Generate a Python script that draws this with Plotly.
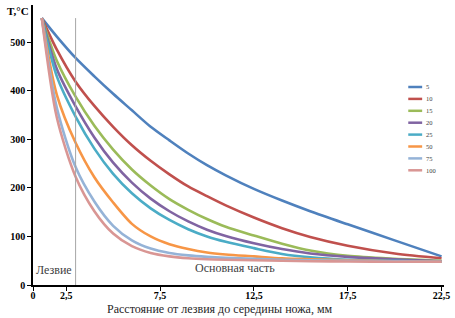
import plotly.graph_objects as go

# Distance from the blade edge (mm)
x_mm = [1.2, 2, 3, 4, 5, 6, 7, 8, 9, 10, 11, 12.5, 14, 15.5, 17.5, 20, 22.5]

series_names = ["5", "10", "15", "20", "25", "50", "75", "100"]

t_5 = [550, 512, 468, 430, 394, 360, 326, 298, 271, 247, 226, 198, 174, 152, 125, 92, 59]
t_10 = [550, 485, 419, 369, 326, 288, 256, 228, 203, 183, 164, 139, 117, 99, 81, 65, 55]
t_15 = [550, 462, 388, 328, 279, 238, 205, 177, 155, 136, 120, 102, 85, 71, 60, 54, 50]
t_20 = [550, 445, 368, 304, 252, 211, 178, 152, 131, 114, 101, 86, 74, 65, 58, 53, 49]
t_25 = [550, 430, 347, 281, 229, 189, 158, 134, 115, 100, 89, 76, 64, 57, 52, 50, 48]
t_50 = [550, 392, 293, 222, 170, 126, 100, 84, 74, 67, 63, 59, 55, 53, 51, 49, 48]
t_75 = [550, 365, 243, 172, 122, 92, 75, 66, 61, 58, 56, 54, 52, 51, 50, 49, 48]
t_100 = [550, 345, 223, 152, 106, 80, 66, 59, 55, 53, 52, 51, 50, 49, 48.5, 48, 48]

series_values = [t_5, t_10, t_15, t_20, t_25, t_50, t_75, t_100]
colors = ["#4F81BD", "#C0504D", "#9BBB59", "#8064A2", "#4BACC6", "#F79646", "#95B3D7", "#D99694"]

x_tick_vals = [0.73, 2.5, 7.5, 12.5, 17.5, 22.5]
x_tick_text = ["0", "2,5", "7,5", "12,5", "17,5", "22,5"]
y_tick_vals = [0, 100, 200, 300, 400, 500]

blade_x = 3.0
blade_top = 550

serif = "Liberation Serif, Times New Roman, serif"

W, H = 455, 318
ML, MR, MT, MB = 33, 8, 5, 33
PW, PH = W - ML - MR, H - MT - MB


def px_to_paper(px, py):
    return (px - ML) / PW, (H - MB - py) / PH


fig = go.Figure()
for name, vals, col in zip(series_names, series_values, colors):
    fig.add_trace(go.Scatter(
        x=x_mm, y=vals, name=name, mode="lines",
        line=dict(color=col, width=2.6, shape="spline", smoothing=0.8),
        showlegend=False,
    ))

# Blade boundary line
fig.add_trace(go.Scatter(
    x=[blade_x, blade_x], y=[0, blade_top], mode="lines",
    line=dict(color="#A6A6A6", width=1), showlegend=False, hoverinfo="skip",
))

fig.update_layout(
    width=W, height=H,
    margin=dict(l=ML, r=MR, t=MT, b=MB),
    paper_bgcolor="white", plot_bgcolor="white",
    font=dict(family=serif, color="black"),
    xaxis=dict(
        range=[0.73, 22.63], tickvals=x_tick_vals, ticktext=x_tick_text,
        showgrid=False, zeroline=False, showline=True, linecolor="black", linewidth=1.5,
        ticks="outside", ticklen=4, tickcolor="black", ticklabelstandoff=-4,
        tickfont=dict(family=serif, size=10, color="black", weight="bold"),
    ),
    yaxis=dict(
        range=[0, 577], tickvals=y_tick_vals,
        showgrid=False, zeroline=False, showline=True, linecolor="black", linewidth=1.5,
        ticks="outside", ticklen=4, tickcolor="black",
        tickfont=dict(family=serif, size=10, color="black", weight="bold"),
    ),
)

# Compact legend (layout only): swatch + label per series
leg_x0, leg_x1, leg_tx = 411, 425, 427
leg_y0, leg_dy = 87, 11.9
for i, (name, col) in enumerate(zip(series_names, colors)):
    py = leg_y0 + i * leg_dy
    xa, ya = px_to_paper(leg_x0, py)
    xb, _ = px_to_paper(leg_x1, py)
    xt, _ = px_to_paper(leg_tx, py)
    fig.add_shape(type="line", xref="paper", yref="paper", x0=xa, x1=xb, y0=ya, y1=ya,
                  line=dict(color=col, width=2.5))
    fig.add_annotation(text=name, xref="paper", yref="paper", x=xt, y=ya,
                       xanchor="left", yanchor="middle", showarrow=False,
                       font=dict(family=serif, size=6.5, color="#404040"))

fig.add_annotation(text="T,°C", xref="paper", yref="paper", x=0, y=1,
                   xanchor="right", yanchor="top", xshift=-2, yshift=2, showarrow=False,
                   font=dict(family=serif, size=11, color="black", weight="bold"))
fig.add_annotation(text="Лезвие", x=1.84, y=31, showarrow=False,
                   font=dict(family=serif, size=12, color="#404040"))
fig.add_annotation(text="Основная часть", x=11.5, y=35, showarrow=False,
                   font=dict(family=serif, size=12, color="#404040"))
fig.add_annotation(text="Расстояние от лезвия до середины ножа, мм", xref="paper", yref="paper",
                   x=0.454, y=0, yanchor="middle", yshift=-24, showarrow=False,
                   font=dict(family=serif, size=12, color="#262626"))

fig.write_html("out.html", post_script="document.body.style.margin='0';",
               config={"displayModeBar": False})
